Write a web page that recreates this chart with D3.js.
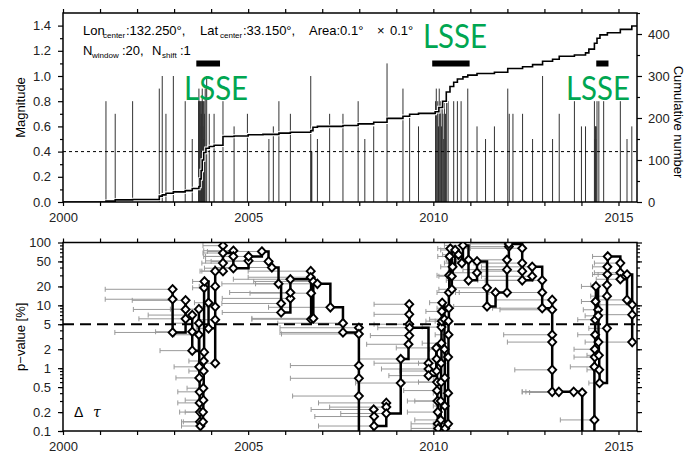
<!DOCTYPE html>
<html>
<head>
<meta charset="utf-8">
<script src="https://cdn.jsdelivr.net/npm/d3@7"></script>
<style>
  body { margin: 0; background: #fff; }
  svg { font-family: "Liberation Sans", Arial, sans-serif; }
  .axis text { font-size: 13px; fill: #222; }
  .axis line { stroke: #000; stroke-width: 1.2; }
</style>
</head>
<body>
<div id="chart"></div>
<script>
// Magnitude events (decimal year, magnitude)
var eventYear = [2001.16, 2001.41, 2001.88, 2002.60, 2002.68, 2002.78, 2002.98, 2003.30, 2003.49,
  2003.66, 2003.67, 2003.68, 2003.69, 2003.70, 2003.71, 2003.72, 2003.73, 2003.74, 2003.75, 2003.76,
  2003.77, 2003.78, 2003.79, 2003.80, 2003.81, 2003.82, 2003.84,
  2003.88, 2003.95, 2004.08, 2004.32, 2004.62, 2004.98, 2005.56, 2005.68, 2005.83, 2006.14,
  2006.69, 2006.70, 2006.71, 2006.72, 2006.87, 2007.20, 2007.56, 2007.97, 2008.15, 2008.39, 2008.75,
  2009.18, 2009.36, 2009.60,
  2010.06, 2010.08, 2010.10, 2010.12, 2010.14, 2010.16, 2010.18, 2010.20, 2010.22, 2010.24, 2010.26,
  2010.28, 2010.30, 2010.33, 2010.36, 2010.40,
  2010.55, 2010.65, 2010.75, 2010.93, 2011.18, 2011.41, 2011.65, 2012.01, 2012.05, 2012.15, 2012.41,
  2012.68, 2012.95, 2013.22, 2013.40, 2013.81, 2014.00, 2014.11,
  2014.35, 2014.36, 2014.37, 2014.38, 2014.39, 2014.40, 2014.42,
  2014.47, 2014.60, 2015.05, 2015.23, 2015.36];
var eventMag = [0.8, 0.7, 0.8, 0.9, 1.0, 0.7, 1.0, 0.8, 0.5,
  0.8, 0.9, 0.8, 0.8, 0.7, 0.8, 0.6, 0.8, 0.7, 0.8, 0.9,
  0.8, 0.6, 0.8, 0.5, 0.8, 0.7, 0.9,
  1.0, 0.7, 0.7, 0.8, 0.6, 0.7, 0.5, 0.6, 0.8, 0.7,
  1.0, 0.4, 0.4, 0.4, 0.5, 0.7, 0.7, 0.8, 0.5, 0.6, 1.1,
  0.9, 0.7, 0.6,
  0.8, 0.9, 0.7, 0.8, 0.6, 0.9, 0.7, 0.8, 0.6, 0.8, 0.7,
  0.5, 0.8, 0.7, 0.8, 0.8,
  0.8, 0.8, 0.8, 0.9, 0.6, 0.5, 0.6, 0.9, 0.7, 0.7, 0.7,
  0.5, 1.0, 0.5, 0.7, 0.8, 0.6, 0.6,
  0.8, 0.5, 0.6, 0.6, 0.5, 0.6, 0.8,
  0.8, 0.8, 0.8, 0.5, 0.6];

// Cumulative number (step after)
var cumYear = [2000.0, 2001.16, 2001.41, 2001.88, 2002.60, 2002.68, 2002.78, 2002.98, 2003.30, 2003.49,
  2003.67, 2003.70, 2003.73, 2003.76, 2003.80, 2003.86, 2003.95, 2004.08, 2004.32, 2004.62,
  2005.00, 2005.40, 2005.83, 2006.14, 2006.69, 2006.75, 2006.87, 2007.56, 2007.97, 2008.39,
  2008.75, 2009.18, 2009.36, 2009.60, 2010.05, 2010.15, 2010.25, 2010.35, 2010.45, 2010.55,
  2010.65, 2010.80, 2010.93, 2011.18, 2011.65, 2012.01, 2012.41, 2012.68, 2012.95, 2013.22,
  2013.40, 2013.81, 2014.11, 2014.20, 2014.35, 2014.42, 2014.50, 2014.70, 2015.05, 2015.36, 2015.50];
var cumCount = [0, 2, 5, 6, 14, 17, 21, 24, 27, 32,
  37, 55, 75, 100, 118, 128, 132, 135, 156, 157,
  160, 161, 164, 166, 170, 178, 180, 182, 186, 190,
  199, 204, 209, 211, 215, 225, 240, 262, 275, 285,
  293, 298, 302, 306, 309, 318, 322, 327, 335, 340,
  347, 350, 355, 364, 378, 390, 398, 403, 411, 419, 421];

// LSSE periods
var lsseStart = [2003.60, 2009.97, 2014.40];
var lsseEnd = [2004.24, 2010.98, 2014.73];
var lsseLabelYear = [2003.27, 2009.72, 2013.58];
var lsseLabelRow = [1, 0, 1];

// p-value time series: time, p-value [%], window start
var pvYear = [2002.96, 2002.96, 2002.96, 2003.31, 2003.31, 2003.31, 2003.49, 2003.49, 2003.49,
  2003.67, 2003.67, 2003.67, 2003.68, 2003.68, 2003.69, 2003.69, 2003.70, 2003.70, 2003.71,
  2003.78, 2003.78, 2003.79, 2003.79, 2003.80, 2003.80, 2003.81, 2003.81, 2003.82,
  2003.93, 2003.93, 2004.11, 2004.11, 2004.11, 2004.11, 2004.11,
  2004.32, 2004.32, 2004.32, 2004.32,
  2004.60, 2004.60, 2004.60, 2005.01, 2005.01, 2005.37, 2005.55, 2005.64, 2005.82, 2005.89, 2005.89,
  2006.14, 2006.14, 2006.14, 2006.69, 2006.69, 2006.70, 2006.70, 2006.76, 2006.76, 2006.87,
  2007.22, 2007.56, 2007.56, 2007.99, 2007.99, 2007.99, 2007.99, 2007.99, 2007.99,
  2008.39, 2008.40, 2008.40, 2008.73, 2008.73, 2008.73,
  2009.12, 2009.12, 2009.33, 2009.35, 2009.35, 2009.35, 2009.35, 2009.36,
  2009.87, 2009.87, 2009.87,
  2010.08, 2010.09, 2010.09, 2010.10, 2010.10, 2010.11, 2010.12, 2010.12, 2010.13,
  2010.20, 2010.20, 2010.21, 2010.21, 2010.22, 2010.22, 2010.23, 2010.23, 2010.24,
  2010.30, 2010.30, 2010.31, 2010.31, 2010.32,
  2010.40, 2010.40, 2010.40, 2010.41, 2010.41, 2010.42, 2010.42, 2010.43, 2010.44, 2010.46,
  2010.50, 2010.50, 2010.52, 2010.59, 2010.68, 2010.77, 2010.80, 2010.95, 2010.95,
  2011.18, 2011.18, 2011.45, 2011.45, 2011.68, 2011.99, 2011.99, 2011.99, 2012.04, 2012.04,
  2012.40, 2012.40, 2012.40, 2012.40, 2012.67, 2012.67, 2012.94, 2012.94, 2012.94,
  2013.21, 2013.21, 2013.21, 2013.21, 2013.21, 2013.21, 2013.39, 2013.79, 2014.02, 2014.02,
  2014.35, 2014.35, 2014.36, 2014.36, 2014.37, 2014.37, 2014.38, 2014.39,
  2014.45, 2014.45, 2014.46, 2014.47, 2014.48, 2014.49,
  2014.69, 2014.69, 2014.69, 2014.70, 2014.70, 2014.71,
  2015.05, 2015.05, 2015.05, 2015.23, 2015.23, 2015.37, 2015.37, 2015.37];
var pvValue = [18, 12.5, 3.7, 12, 8.6, 6.1, 7, 3.8, 1.9,
  8.7, 5.2, 3.4, 1.05, 0.7, 0.42, 0.28, 0.2, 0.14, 0.12,
  0.14, 0.2, 0.31, 0.48, 0.9, 1.3, 1.8, 19, 24,
  11, 4.3, 1.2, 5.9, 9.5, 20, 35,
  35, 47, 89, 68,
  74, 60, 39, 51, 60, 72, 50, 40, 22, 10.7, 7.7,
  12.9, 16, 26, 35, 28, 15.6, 6, 6.2, 24, 22,
  9.3, 5.2, 3.7, 4.4, 3.5, 1.1, 0.69, 0.36, 0.05,
  0.22, 0.17, 0.12, 0.28, 0.24, 0.19,
  0.58, 1.4, 2.4, 3.3, 5.0, 7.2, 10.4, 4.4,
  1.2, 0.97, 0.76,
  2.1, 1.4, 0.9, 0.6, 0.44, 0.3, 0.2, 0.13, 0.11,
  0.15, 0.3, 0.6, 1.2, 2.5, 4.5, 5.6, 8, 11,
  6, 2, 0.7, 0.25, 0.11,
  0.13, 0.4, 1.5, 3.4, 5.6, 9, 16, 30, 60, 80,
  18, 29, 41, 76, 64, 47, 90, 53, 25,
  33, 50, 19, 9.6, 16, 16, 37, 53, 86, 95,
  81, 47, 35, 25, 29, 41, 25, 16, 9,
  12.2, 8.5, 3.4, 2.6, 0.94, 0.42, 0.42, 0.42, 0.41, 0.05,
  0.15, 1.05, 1.5, 2.0, 3.4, 5.9, 11.5, 20,
  8.5, 6.8, 2.6, 1.6, 0.94, 0.58,
  4.3, 14, 21, 31, 41, 60,
  47, 33, 26, 12.2, 31, 10.2, 7.1, 2.6];
var pvStart = [2001.14, 2001.14, 2001.40, 2001.87, 2001.90, 2002.05, 2002.30, 2002.50, 2002.62,
  2002.90, 2002.95, 2003.00, 2003.00, 2003.05, 2003.10, 2003.10, 2003.15, 2003.20, 2003.20,
  2003.25, 2003.30, 2003.30, 2003.35, 2003.40, 2003.40, 2003.45, 2003.50, 2003.50,
  2003.55, 2003.60, 2003.65, 2003.65, 2003.67, 2003.68, 2003.70,
  2003.75, 2003.75, 2003.78, 2003.78,
  2003.80, 2003.80, 2003.82, 2003.85, 2003.85, 2003.90, 2004.00, 2004.10, 2004.29, 2004.29, 2004.30,
  2004.30, 2004.50, 2004.60, 2005.00, 2005.00, 2005.05, 2005.10, 2005.10, 2005.15, 2005.20,
  2005.55, 2005.80, 2005.86, 2005.86, 2005.90, 2006.14, 2006.14, 2006.20, 2006.30,
  2006.70, 2006.80, 2006.90, 2006.90, 2007.20, 2007.50,
  2007.90, 2008.00, 2008.20, 2008.30, 2008.40, 2008.40, 2008.40, 2008.50,
  2008.40, 2008.60, 2008.80,
  2009.00, 2009.10, 2009.10, 2009.20, 2009.20, 2009.30, 2009.30, 2009.40, 2009.40,
  2009.50, 2009.50, 2009.60, 2009.60, 2009.70, 2009.70, 2009.80, 2009.80, 2009.90,
  2009.90, 2009.90, 2010.00, 2010.00, 2010.00,
  2010.00, 2010.00, 2010.05, 2010.05, 2010.05, 2010.10, 2010.10, 2010.10, 2010.12, 2010.12,
  2010.15, 2010.15, 2010.20, 2010.20, 2010.25, 2010.30, 2010.30, 2010.35, 2010.35,
  2010.40, 2010.40, 2010.50, 2010.55, 2010.60, 2010.70, 2010.80, 2010.90, 2010.90, 2011.00,
  2011.00, 2011.10, 2011.20, 2011.20, 2011.30, 2011.30, 2011.40, 2011.50, 2011.60,
  2011.70, 2011.80, 2011.90, 2012.00, 2012.20, 2012.40, 2012.40, 2012.50, 2012.60, 2012.70,
  2013.43, 2013.70, 2013.80, 2013.80, 2013.90, 2013.90, 2014.00, 2014.00,
  2014.05, 2014.10, 2014.10, 2014.15, 2014.15, 2014.20,
  2014.20, 2014.25, 2014.25, 2014.30, 2014.30, 2014.30,
  2014.35, 2014.35, 2014.40, 2014.45, 2014.45, 2014.50, 2014.50, 2014.50];

var yearTicks = d3.range(2000, 2016);
var magTicks = [0, 0.2, 0.4, 0.6, 0.8, 1.0, 1.2, 1.4];
var cumTicks = [0, 100, 200, 300, 400];
var pTicks = [0.1, 0.2, 0.5, 1, 2, 5, 10, 20, 50, 100];
var magThreshold = 0.4;
var pThreshold = 5;

// Set up chart
var svgWidth = 687;
var svgHeight = 454;
var left = 63, right = 637;
var topPanel = {top: 13, bottom: 202};
var botPanel = {top: 242.5, bottom: 431};

var svg = d3.select("#chart")
  .append("svg")
  .attr("width", svgWidth)
  .attr("height", svgHeight);

var x = d3.scaleLinear().domain([2000, 2015.5]).range([left, right]);
var yMag = d3.scaleLinear().domain([0, 1.5]).range([topPanel.bottom, topPanel.top]);
var yCum = d3.scaleLinear().domain([0, 450]).range([topPanel.bottom, topPanel.top]);
var yP = d3.scaleLog().domain([0.1, 100]).range([botPanel.bottom, botPanel.top]);

var defs = svg.append("defs");
defs.append("clipPath").attr("id", "clipTop").append("rect")
  .attr("x", left).attr("y", topPanel.top)
  .attr("width", right - left).attr("height", topPanel.bottom - topPanel.top);
defs.append("clipPath").attr("id", "clipBot").append("rect")
  .attr("x", left).attr("y", botPanel.top)
  .attr("width", right - left).attr("height", botPanel.bottom - botPanel.top);

// ---------- Top panel ----------
var topG = svg.append("g").attr("clip-path", "url(#clipTop)");

var events = eventYear.map(function(d, i) { return {t: d, m: eventMag[i]}; });
topG.selectAll(".ev")
  .data(events)
  .enter()
  .append("line")
  .attr("x1", d => x(d.t)).attr("x2", d => x(d.t))
  .attr("y1", yMag(0)).attr("y2", d => yMag(d.m))
  .attr("stroke", "#333")
  .attr("stroke-width", 1);

topG.append("line")
  .attr("x1", left).attr("x2", right)
  .attr("y1", yMag(magThreshold)).attr("y2", yMag(magThreshold))
  .attr("stroke", "#000").attr("stroke-width", 1)
  .attr("stroke-dasharray", "3,3");

var cum = cumYear.map(function(d, i) { return {t: d, c: cumCount[i]}; });
var cumLine = d3.line().x(d => x(d.t)).y(d => yCum(d.c)).curve(d3.curveStepAfter);
topG.append("path").datum(cum).attr("d", cumLine)
  .attr("fill", "none").attr("stroke", "#fff").attr("stroke-width", 3.5);
topG.append("path").datum(cum).attr("d", cumLine)
  .attr("fill", "none").attr("stroke", "#000").attr("stroke-width", 1.6);

// LSSE bars and labels
lsseStart.forEach(function(s, i) {
  svg.append("rect")
    .attr("x", x(s)).attr("y", 60.5)
    .attr("width", x(lsseEnd[i]) - x(s)).attr("height", 6)
    .attr("fill", "#000");
  svg.append("text")
    .attr("x", x(lsseLabelYear[i]))
    .attr("y", lsseLabelRow[i] ? 100 : 48)
    .attr("font-family", "Lato, 'Open Sans', sans-serif")
    .attr("font-size", 32)
    .attr("textLength", 64)
    .attr("lengthAdjust", "spacingAndGlyphs")
    .attr("fill", "#00a651")
    .text("LSSE");
});

// Header text, pieces placed where the reference puts them
function header(y, parts) {
  var t = svg.append("text").attr("y", y).attr("font-size", 13);
  parts.forEach(function(p) {
    t.append("tspan")
      .attr("x", p[0])
      .attr("y", p[2] ? y + 3 : y)
      .attr("font-size", p[2] ? 8 : 13)
      .text(p[1]);
  });
}
header(35, [[83, "Lon"], [103, "center", 1], [126, ":132.250°,"],
  [200, "Lat"], [220, "center", 1], [243, ":33.150°,"],
  [309, "Area:0.1°"], [377, "×"], [390, "0.1°"]]);
header(55, [[83, "N"], [92, "window", 1], [122, ":20,"],
  [152, "N"], [162, "shift", 1], [180, ":1"]]);

// Top axes
svg.append("g").attr("class", "axis")
  .attr("transform", `translate(0, ${topPanel.bottom})`)
  .call(d3.axisBottom(x).tickValues(yearTicks).tickSize(4).tickPadding(7)
    .tickFormat(d => d % 5 === 0 ? d : ""));
svg.append("g").attr("class", "axis")
  .attr("transform", `translate(0, ${topPanel.top})`)
  .call(d3.axisTop(x).tickValues(yearTicks).tickSize(4).tickFormat(""));
svg.append("g").attr("class", "axis")
  .attr("transform", `translate(${left}, 0)`)
  .call(d3.axisLeft(yMag).tickValues(magTicks).tickSize(5).tickPadding(7)
    .tickFormat(d3.format(".1f")));
svg.append("g").attr("class", "axis")
  .attr("transform", `translate(${left}, 0)`)
  .call(d3.axisLeft(yMag).tickValues(d3.range(0.1, 1.5, 0.2)).tickSize(3).tickFormat(""));
svg.append("g").attr("class", "axis")
  .attr("transform", `translate(${right}, 0)`)
  .call(d3.axisRight(yCum).tickValues(cumTicks).tickSize(5).tickPadding(6));
svg.append("g").attr("class", "axis")
  .attr("transform", `translate(${right}, 0)`)
  .call(d3.axisRight(yCum).tickValues([50, 150, 250, 350, 450]).tickSize(3).tickFormat(""));

svg.append("rect")
  .attr("x", left).attr("y", topPanel.top)
  .attr("width", right - left).attr("height", topPanel.bottom - topPanel.top)
  .attr("fill", "none").attr("stroke", "#000").attr("stroke-width", 1.5);

svg.append("text")
  .attr("transform", `translate(25, ${(topPanel.top + topPanel.bottom) / 2}) rotate(-90)`)
  .attr("text-anchor", "middle").attr("font-size", 13)
  .text("Magnitude");
svg.append("text")
  .attr("transform", `translate(674, 122) rotate(90)`)
  .attr("text-anchor", "middle").attr("font-size", 13)
  .text("Cumulative number");

// ---------- Bottom panel ----------
var botG = svg.append("g").attr("clip-path", "url(#clipBot)");
var pv = pvYear.map(function(d, i) { return {t: d, p: pvValue[i], s: pvStart[i]}; });

// Window error bars
var bars = botG.selectAll(".eb").data(pv).enter().append("g");
bars.append("line")
  .attr("x1", d => x(d.s)).attr("x2", d => x(d.t))
  .attr("y1", d => yP(d.p)).attr("y2", d => yP(d.p))
  .attr("stroke", "#999").attr("stroke-width", 1);
bars.append("line")
  .attr("x1", d => x(d.s)).attr("x2", d => x(d.s))
  .attr("y1", d => yP(d.p) - 2.5).attr("y2", d => yP(d.p) + 2.5)
  .attr("stroke", "#999").attr("stroke-width", 1);

botG.append("line")
  .attr("x1", left).attr("x2", right)
  .attr("y1", yP(pThreshold)).attr("y2", yP(pThreshold))
  .attr("stroke", "#000").attr("stroke-width", 2)
  .attr("stroke-dasharray", "11,6");

var pvLine = d3.line().x(d => x(d.t)).y(d => yP(d.p)).curve(d3.curveStepAfter);
botG.append("path").datum(pv).attr("d", pvLine)
  .attr("fill", "none").attr("stroke", "#000").attr("stroke-width", 2.5);

botG.selectAll(".dm").data(pv).enter().append("path")
  .attr("d", "M0,-4.2L4,0L0,4.2L-4,0Z")
  .attr("transform", d => `translate(${x(d.t)}, ${yP(d.p)})`)
  .attr("fill", "#fff").attr("stroke", "#000").attr("stroke-width", 1.9);

// Bottom axes
var pMinor = [];
[0.1, 1, 10].forEach(function(b) { d3.range(1, 10).forEach(function(k) { pMinor.push(b * k); }); });
svg.append("g").attr("class", "axis")
  .attr("transform", `translate(0, ${botPanel.bottom})`)
  .call(d3.axisBottom(x).tickValues(yearTicks).tickSize(4).tickPadding(7)
    .tickFormat(d => d % 5 === 0 ? d : ""));
svg.append("g").attr("class", "axis")
  .attr("transform", `translate(0, ${botPanel.top})`)
  .call(d3.axisTop(x).tickValues(yearTicks).tickSize(4).tickFormat(""));
svg.append("g").attr("class", "axis")
  .attr("transform", `translate(${left}, 0)`)
  .call(d3.axisLeft(yP).tickValues(pTicks).tickSize(5).tickPadding(7).tickFormat(d3.format("~g")));
svg.append("g").attr("class", "axis")
  .attr("transform", `translate(${left}, 0)`)
  .call(d3.axisLeft(yP).tickValues(pMinor).tickSize(3).tickFormat(""));
svg.append("g").attr("class", "axis")
  .attr("transform", `translate(${right}, 0)`)
  .call(d3.axisRight(yP).tickValues(pTicks).tickSize(5).tickFormat(""));
svg.append("g").attr("class", "axis")
  .attr("transform", `translate(${right}, 0)`)
  .call(d3.axisRight(yP).tickValues(pMinor).tickSize(3).tickFormat(""));

svg.selectAll(".axis .domain").remove();

svg.append("rect")
  .attr("x", left).attr("y", botPanel.top)
  .attr("width", right - left).attr("height", botPanel.bottom - botPanel.top)
  .attr("fill", "none").attr("stroke", "#000").attr("stroke-width", 1.5);

svg.append("text")
  .attr("transform", `translate(25, ${(botPanel.top + botPanel.bottom) / 2}) rotate(-90)`)
  .attr("text-anchor", "middle").attr("font-size", 13)
  .text("p−value [%]");

var dt = svg.append("text").attr("y", 417).attr("font-size", 14);
dt.append("tspan").attr("x", 74).text("Δ");
dt.append("tspan").attr("x", 93).attr("font-style", "italic")
  .attr("font-family", "'DejaVu Serif', serif").text("τ");
</script>
</body>
</html>
